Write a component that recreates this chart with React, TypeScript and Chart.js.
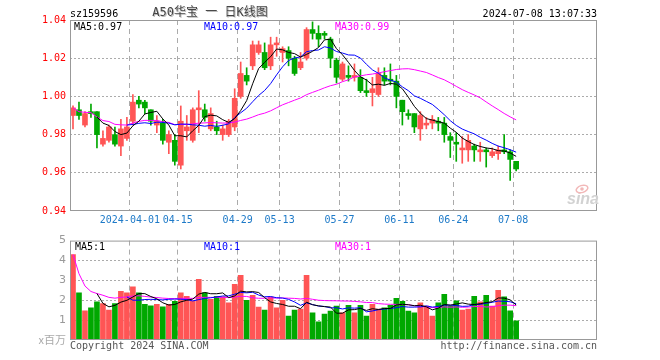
import React, { useEffect, useRef } from 'react';
import { Chart, registerables } from 'chart.js';

Chart.register(...registerables);

// ---------- data ----------
const dates = [
  '03-18','03-19','03-20','03-21','03-22','03-25','03-26','03-27','03-28','03-29',
  '04-01','04-02','04-03','04-08','04-09','04-10','04-11','04-12','04-15','04-16',
  '04-17','04-18','04-19','04-22','04-23','04-24','04-25','04-26','04-29','04-30',
  '05-06','05-07','05-08','05-09','05-10','05-13','05-14','05-15','05-16','05-17',
  '05-20','05-21','05-22','05-23','05-24','05-27','05-28','05-29','05-30','05-31',
  '06-03','06-04','06-05','06-06','06-07','06-11','06-12','06-13','06-14','06-17',
  '06-18','06-19','06-20','06-21','06-24','06-25','06-26','06-27','06-28','07-01',
  '07-02','07-03','07-04','07-05','07-08',
];

const opens = [
  0.990,0.993,0.985,0.992,0.992,0.975,0.977,0.980,0.974,0.978,
  0.987,0.998,0.997,0.993,0.985,0.986,0.976,0.977,0.964,0.982,
  0.977,0.993,0.993,0.983,0.984,0.980,0.980,0.984,1.000,1.011,
  1.016,1.023,1.023,1.016,1.027,1.023,1.024,1.020,1.015,1.020,
  1.035,1.033,1.033,1.030,1.019,1.009,1.011,1.010,1.010,1.003,
  1.002,1.001,1.011,1.009,1.008,0.998,0.991,0.991,0.983,0.985,
  0.986,0.987,0.986,0.979,0.976,0.972,0.972,0.974,0.971,0.972,
  0.969,0.970,0.972,0.971,0.966,
];

const closes = [
  0.994,0.990,0.991,0.991,0.980,0.978,0.984,0.975,0.983,0.984,
  0.997,0.996,0.994,0.987,0.987,0.977,0.980,0.966,0.987,0.984,
  0.993,0.994,0.989,0.991,0.982,0.983,0.987,0.999,1.012,1.008,
  1.027,1.027,1.015,1.027,1.028,1.025,1.020,1.012,1.018,1.035,
  1.033,1.030,1.032,1.020,1.010,1.017,1.010,1.011,1.003,1.002,
  1.004,1.012,1.008,1.008,1.000,0.992,0.990,0.984,0.990,0.986,
  0.988,0.986,0.980,0.977,0.975,0.973,0.977,0.972,0.972,0.971,
  0.971,0.972,0.971,0.967,0.962,
];

const highs = [
  0.995,0.997,0.992,0.996,0.992,0.982,0.985,0.984,0.988,0.989,
  1.001,1.000,0.998,0.993,0.990,0.988,0.982,0.980,0.995,0.990,
  0.994,1.003,0.996,0.994,0.987,0.985,0.988,1.004,1.018,1.015,
  1.029,1.029,1.028,1.031,1.031,1.026,1.026,1.021,1.023,1.036,
  1.039,1.037,1.034,1.031,1.020,1.018,1.016,1.017,1.014,1.009,
  1.010,1.015,1.015,1.017,1.011,0.998,0.993,0.991,0.992,0.989,
  0.990,0.989,0.989,0.981,0.981,0.979,0.980,0.975,0.976,0.973,
  0.973,0.974,0.980,0.972,0.966,
];

const lows = [
  0.983,0.988,0.984,0.989,0.973,0.974,0.976,0.974,0.969,0.977,
  0.985,0.994,0.991,0.985,0.981,0.975,0.970,0.964,0.962,0.977,
  0.976,0.981,0.987,0.982,0.980,0.977,0.979,0.982,0.999,1.006,
  1.014,1.022,1.014,1.014,1.021,1.018,1.016,1.011,1.014,1.019,
  1.030,1.026,1.030,1.015,1.007,1.008,1.008,1.008,1.002,1.000,
  0.995,1.000,1.006,1.006,0.994,0.985,0.988,0.981,0.977,0.983,
  0.983,0.982,0.976,0.968,0.966,0.965,0.966,0.966,0.966,0.963,
  0.968,0.967,0.970,0.956,0.961,
];

// volume, in millions
const volumes = [
  4.30,2.37,1.47,1.62,1.92,1.83,1.50,1.83,2.45,2.37,
  2.67,2.37,1.80,1.72,1.80,1.67,1.80,1.95,2.37,2.20,
  1.97,3.05,2.37,2.05,2.20,2.17,1.87,2.80,3.25,2.00,
  2.25,1.65,1.50,2.17,1.62,2.00,1.20,1.50,1.55,3.25,
  1.37,0.92,1.30,1.45,1.70,1.37,1.75,1.37,1.75,1.20,
  1.80,1.55,1.62,1.75,2.10,1.95,1.45,1.37,1.87,1.70,
  1.20,1.87,2.30,1.70,1.97,1.50,1.55,2.20,1.92,2.25,
  1.70,2.50,2.17,1.47,0.97,
];

const emptySlots = 13; // free space on the right of the last candle
const xTickDates = ['04-01','04-15','04-29','05-13','05-27','06-11','06-24','07-08'];
const xTickLabels = ['2024-04-01','04-15','04-29','05-13','05-27','06-11','06-24','07-08'];
const priceTicks = { min: 0.94, max: 1.04, step: 0.02 };
const volumeTicks = { min: 0, max: 5, step: 1 };

const headerCode = 'sz159596';
const headerTitle = 'A50华宝 一 日K线图';
const headerTime = '2024-07-08 13:07:33';
const priceLegend = ['MA5:0.97', 'MA10:0.97', 'MA30:0.99'];
const volumeLegend = ['MA5:1', 'MA10:1', 'MA30:1'];
const volumeUnit = 'x百万';
const footerLeft = 'Copyright 2024 SINA.COM';
const footerRight = 'http://finance.sina.com.cn';

// ---------- styles ----------
const RED = '#FF5555';
const GREEN = '#00A800';
const MA_COLORS = ['#000000', '#0000FF', '#FF00FF'];
const MONO = '"DejaVu Sans Mono", monospace';

function movingAverage(values: number[], n: number, cumulative: boolean): (number | null)[] {
  return values.map((_, i) => {
    if (i < n - 1 && !cumulative) return null;
    const s = values.slice(Math.max(0, i - n + 1), i + 1);
    return s.reduce((a, b) => a + b, 0) / s.length;
  });
}

const labels = [...dates, ...new Array(emptySlots).fill('')];
const candleColors = dates.map((_, i) => (closes[i] >= opens[i] ? RED : GREEN));
const tickIndexSet = new Set(xTickDates.map((d) => dates.indexOf(d)));

const framePlugin = {
  id: 'frame',
  afterDraw(chart: any) {
    const { ctx, chartArea: a } = chart;
    ctx.save();
    ctx.strokeStyle = '#999';
    ctx.lineWidth = 1;
    ctx.strokeRect(a.left + 0.5, a.top + 0.5, a.right - a.left - 1, a.bottom - a.top - 1);
    ctx.restore();
  },
};

function xScale(showLabels: boolean, height: number) {
  return {
    type: 'category',
    offset: true,
    grid: {
      offset: true,
      drawTicks: false,
      lineWidth: 1,
      color: (c: any) => (tickIndexSet.has(c.index) ? '#ABABAB' : 'rgba(0,0,0,0)'),
    },
    border: { display: false, dash: [5, 4] },
    ticks: {
      display: showLabels,
      autoSkip: false,
      maxRotation: 0,
      minRotation: 0,
      padding: 3,
      labelOffset: -3,
      color: '#1E7AC8',
      font: { family: MONO, size: 10 },
      callback: (_v: any, i: number) => {
        const k = xTickDates.indexOf(dates[i]);
        return k >= 0 ? xTickLabels[k] : '';
      },
    },
    afterFit: (s: any) => {
      s.height = height;
    },
  };
}

export default function App() {
  const mainRef = useRef<HTMLCanvasElement>(null);
  const volRef = useRef<HTMLCanvasElement>(null);

  useEffect(() => {
    document.body.style.margin = '0';
    const ma5 = movingAverage(closes, 5, false);
    const ma10 = movingAverage(closes, 10, false);
    const ma30 = movingAverage(closes, 30, true);
    const vma5 = movingAverage(volumes, 5, false);
    const vma10 = movingAverage(volumes, 10, false);
    const vma30 = movingAverage(volumes, 30, true);

    const mainText = {
      id: 'mainText',
      afterDraw(chart: any) {
        const ctx = chart.ctx;
        ctx.save();
        ctx.textBaseline = 'alphabetic';
        ctx.font = `10px ${MONO}`;
        ctx.fillStyle = '#000';
        ctx.textAlign = 'left';
        ctx.fillText(headerCode, 70, 17);
        ctx.textAlign = 'right';
        ctx.fillText(headerTime, 597, 17);
        ctx.textAlign = 'center';
        ctx.font = `12px ${MONO}, "Noto Sans CJK SC"`;
        ctx.fillStyle = '#BBBBBB';
        ctx.fillText(headerTitle, 211, 17);
        ctx.fillStyle = '#444444';
        ctx.fillText(headerTitle, 210, 16);
        ctx.textAlign = 'left';
        ctx.font = `10px ${MONO}`;
        const xs = [74, 204, 335];
        priceLegend.forEach((t, i) => {
          ctx.fillStyle = MA_COLORS[i];
          ctx.fillText(t, xs[i], 30);
        });
        // sina watermark
        ctx.font = 'italic bold 16px "Liberation Sans"';
        ctx.fillStyle = '#D2D2D2';
        ctx.fillText('sina', 567, 204);
        ctx.strokeStyle = '#F2B8B8';
        ctx.lineWidth = 1.5;
        ctx.beginPath();
        ctx.ellipse(582, 189, 6, 3.5, -0.3, 0, Math.PI * 2);
        ctx.stroke();
        ctx.fillStyle = '#F2B8B8';
        ctx.beginPath();
        ctx.arc(582, 189, 1.8, 0, Math.PI * 2);
        ctx.fill();
        ctx.restore();
      },
    };

    const volText = {
      id: 'volText',
      afterDraw(chart: any) {
        const ctx = chart.ctx;
        ctx.save();
        ctx.textBaseline = 'alphabetic';
        ctx.font = `10px ${MONO}`;
        const xs = [75, 204, 335];
        volumeLegend.forEach((t, i) => {
          ctx.fillStyle = MA_COLORS[i];
          ctx.fillText(t, xs[i], 20);
        });
        ctx.fillStyle = '#555';
        ctx.textAlign = 'left';
        ctx.fillText(footerLeft, 70, 118.5);
        ctx.textAlign = 'right';
        ctx.fillText(footerRight, 597, 118.5);
        ctx.restore();
      },
    };

    const lineDs = (data: (number | null)[], color: string) => ({
      type: 'line',
      data,
      borderColor: color,
      borderWidth: 1,
      pointRadius: 0,
      fill: false,
      tension: 0,
      order: 0,
    });

    const main = new Chart(mainRef.current as HTMLCanvasElement, {
      type: 'bar',
      data: {
        labels,
        datasets: [
          {
            type: 'bar',
            data: dates.map((_, i) => [lows[i], highs[i]]),
            backgroundColor: candleColors,
            barThickness: 1,
            grouped: false,
            order: 2,
          },
          {
            type: 'bar',
            data: dates.map((_, i) => [opens[i], closes[i]]),
            backgroundColor: candleColors,
            barThickness: 5,
            minBarLength: 1,
            grouped: false,
            order: 1,
          },
          lineDs(ma5, MA_COLORS[0]),
          lineDs(ma10, MA_COLORS[1]),
          lineDs(ma30, MA_COLORS[2]),
        ],
      } as any,
      options: {
        animation: false,
        responsive: false,
        devicePixelRatio: 1,
        events: [],
        layout: { padding: { top: 20, right: 63, left: 0, bottom: 0 } },
        plugins: { legend: { display: false }, tooltip: { enabled: false } },
        scales: {
          x: xScale(true, 19),
          y: {
            min: priceTicks.min,
            max: priceTicks.max,
            grid: {
              drawTicks: false,
              color: (c: any) =>
                c.tick && c.tick.value > priceTicks.min + 0.001 && c.tick.value < priceTicks.max - 0.001
                  ? '#ABABAB'
                  : 'rgba(0,0,0,0)',
            },
            border: { display: false, dash: [2, 2] },
            ticks: {
              stepSize: priceTicks.step,
              padding: 4,
              color: '#FF0000',
              font: { family: MONO, size: 10 },
              callback: (v: any) => Number(v).toFixed(2),
            },
            afterFit: (s: any) => {
              s.width = 70;
            },
          },
        } as any,
      },
      plugins: [framePlugin, mainText],
    } as any);

    const vol = new Chart(volRef.current as HTMLCanvasElement, {
      type: 'bar',
      data: {
        labels,
        datasets: [
          {
            type: 'bar',
            data: volumes,
            backgroundColor: candleColors,
            barThickness: 5,
            grouped: false,
            order: 1,
          },
          lineDs(vma5, MA_COLORS[0]),
          lineDs(vma10, MA_COLORS[1]),
          lineDs(vma30, MA_COLORS[2]),
        ],
      } as any,
      options: {
        animation: false,
        responsive: false,
        devicePixelRatio: 1,
        events: [],
        layout: { padding: { top: 10, right: 63, left: 0, bottom: 20 } },
        plugins: { legend: { display: false }, tooltip: { enabled: false } },
        scales: {
          x: xScale(false, 0),
          y: {
            min: volumeTicks.min,
            max: volumeTicks.max,
            grid: {
              drawTicks: false,
              color: (c: any) =>
                c.tick && c.tick.value > volumeTicks.min && c.tick.value < volumeTicks.max
                  ? '#ABABAB'
                  : 'rgba(0,0,0,0)',
            },
            border: { display: false, dash: [2, 2] },
            ticks: {
              stepSize: volumeTicks.step,
              padding: 4,
              color: (c: any) => (c.tick && c.tick.value === 0 ? '#AAAAAA' : '#9A9A9A'),
              font: (c: any) =>
                c.tick && c.tick.value === 0
                  ? { family: '"Noto Sans CJK SC"', size: 11 }
                  : { family: '"DejaVu Sans"', size: 11 },
              callback: (v: any) => (Number(v) === 0 ? volumeUnit : String(v)),
            },
            afterFit: (s: any) => {
              s.width = 70;
            },
          },
        } as any,
      },
      plugins: [framePlugin, volText],
    } as any);

    return () => {
      main.destroy();
      vol.destroy();
    };
  }, []);

  return (
    <div style={{ position: 'relative', width: 660, height: 360, background: '#fff' }}>
      <canvas
        ref={mainRef}
        width={660}
        height={230}
        style={{ position: 'absolute', left: 0, top: 0, width: 660, height: 230 }}
      />
      <canvas
        ref={volRef}
        width={660}
        height={130}
        style={{ position: 'absolute', left: 0, top: 230, width: 660, height: 130 }}
      />
    </div>
  );
}
